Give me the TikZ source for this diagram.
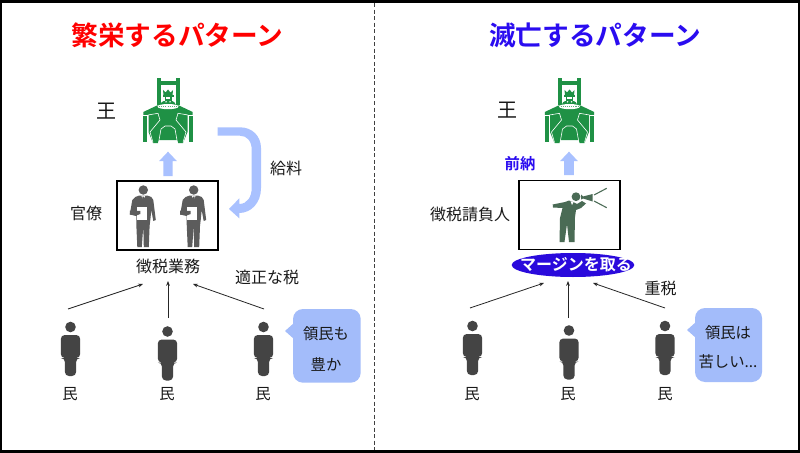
\documentclass[tikz,border=0pt]{standalone}
\usepackage{fontspec}
\setmainfont{Noto Sans CJK JP}
\newfontfamily\jpbold{Noto Sans CJK JP Bold}
\usetikzlibrary{shapes.geometric,arrows.meta}
\definecolor{kinggreen}{HTML}{1F9145}
\definecolor{palearrow}{HTML}{A9C1FF}
\definecolor{bubble}{HTML}{A3BCFA}
\definecolor{persongrey}{HTML}{444444}
\definecolor{officergrey}{HTML}{5C5C5C}
\definecolor{shoutgreen}{HTML}{4A6B55}
\definecolor{titleblue}{HTML}{2A0CF0}
\definecolor{ovalblue}{HTML}{2A0ADC}
\tikzset{
  x=0.75pt,y=-0.75pt,
  txt/.style={font=\fontsize{12}{14}\selectfont,text=black!90,inner sep=0pt},
  smalltxt/.style={font=\fontsize{11.5}{14}\selectfont,text=black!90,inner sep=0pt},
  kingtxt/.style={font=\fontsize{15}{17}\selectfont,text=black!90,inner sep=0pt},
  titletxt/.style={font=\jpbold\fontsize{20}{24}\selectfont,inner sep=0pt},
  thin arrow/.style={draw=black!85,line width=0.6pt,-{Stealth[length=3.6pt,width=2.8pt]}},
  boxed/.style={draw=black,line width=1.2pt,fill=white,minimum width=75.5pt,minimum height=51.5pt,inner sep=0pt},
  pics/person/.style={code={
    \fill[persongrey] (0,-21) circle (5.3);
    \fill[persongrey,rounded corners=3pt] (-9.7,-13) -- (9.7,-13) -- (9.7,10) -- (5.6,10) -- (5.6,28) -- (-5.6,28) -- (-5.6,10) -- (-9.7,10) -- cycle;
  }},
  pics/king/.style={code={
    % chair back
    \fill[kinggreen] (-11.5,-32) rectangle (-7.5,-5);
    \fill[kinggreen] (7.5,-32) rectangle (11.5,-5);
    \fill[kinggreen] (-8,-28.5) rectangle (8,-25);
    % crown and head
    \fill[kinggreen] (-5,-20) -- (-2.5,-17.5) -- (0,-20.5) -- (2.5,-17.5) -- (5,-20) -- (4.5,-15) -- (-4.5,-15) -- cycle;
    \fill[kinggreen] (-5.5,-14.5) rectangle (5.5,-13.2);
    \fill[kinggreen] (-3.5,-13.2) rectangle (3.5,-9);
    \fill[white] (-2.2,-12.5) rectangle (2.2,-10.5);
    \fill[kinggreen] (-8,-5) .. controls (-6,-10) and (-3,-9) .. (0,-9) .. controls (3,-9) and (6,-10) .. (8,-5) -- cycle;
    \fill[white] (-2,-8.2) circle (0.8);
    \fill[white] (2,-8.2) circle (0.8);
    % body
    \fill[kinggreen] (-11,-4.5) -- (11,-4.5) -- (24.7,2) -- (24.7,5) -- (19.5,5) -- (19.5,22) -- (15,33) -- (10,33) -- (9,30) -- (-9,30) -- (-10,33) -- (-15,33) -- (-19.5,22) -- (-19.5,5) -- (-24.7,5) -- (-24.7,2) -- cycle;
    \fill[kinggreen] (-24.7,6) rectangle (-20.7,32);
    \fill[kinggreen] (20.7,6) rectangle (24.7,32);
    % collar
    \fill[white] (0,-3.4) ellipse (10.5 and 2.6);
    \draw[kinggreen!70!white,line width=0.5pt,dash pattern=on 0.8pt off 0.8pt] (-9,-3.4) -- (9,-3.4);
    % white outlines
    \draw[white,line width=0.45pt] (-20,5) -- (-10,3.3) -- (-8,10) -- (-18,22) -- (-15,32.5);
    \draw[white,line width=0.45pt] (20,5) -- (10,3.3) -- (8,10) -- (18,22) -- (15,32.5);
    \draw[white,line width=0.45pt] (-9.5,33) -- (-7,19) -- (-3,16) -- (3,16) -- (7,19) -- (9.5,33);
  }},
  pics/officer/.style={code={
    \fill[officergrey] (0,-26) circle (4.7);
    \fill[officergrey] (-4,-20.5) -- (4,-20.5) -- (8,-19) -- (10,-16) -- (12.5,4) -- (10,5) -- (8,-6) -- (7,4) -- (6.3,10) -- (5.5,31) -- (0.5,31) -- (0,10) -- (-1.5,31) -- (-6,31) -- (-7,8) -- (-7,0) -- (-13.5,-1.5) -- (-11,-16) -- (-8,-19) -- cycle;
    \fill[white] (-2.2,-20.5) -- (0,-16.5) -- (2.2,-20.5) -- cycle;
    \fill[officergrey] (-0.8,-19.5) -- (0.8,-19.5) -- (1,-13.5) -- (-1,-13.5) -- cycle;
    \fill[white] (-6.5,-9) -- (3.5,-9) -- (3.5,4) -- (-6.5,4) -- cycle;
    \fill[officergrey] (-13.5,-5.5) -- (-3,-5) -- (-3,-2) -- (-7,-0.5) -- (-13.5,-1.5) -- cycle;
  }},
  pics/shouter/.style={code={
    \fill[shoutgreen] (0,-8.3) circle (4.4);
    \fill[shoutgreen] (-23.3,-0.5) -- (-11,-3) -- (-7,-4.5) -- (-3,-3) -- (1,-1) -- (6,-4) -- (10,-1.5) -- (5,3) -- (0,5) -- (-1,12) -- (-1.5,37) -- (-7,37) -- (-9,19) -- (-11.5,37) -- (-16.5,37) -- (-16,13) -- (-13.5,3) -- (-23,2.5) -- cycle;
    \fill[white] (-5.5,-3.8) -- (-4,0) -- (-2.5,-3) -- cycle;
    \fill[shoutgreen] (5,-10.5) -- (7,-8.5) -- (16.7,-11) -- (16.7,-3.5) -- (7,-6.5) -- (5,-5.5) -- cycle;
    \draw[shoutgreen,line width=0.8pt] (18,-10) -- (30.7,-16.7);
    \draw[shoutgreen,line width=0.8pt] (18,-4) -- (30.7,2.7);
  }},
}
\newcommand{\bigarrowup}[4]{\fill[palearrow] (#1-9,#2+9.5) -- (#1,#2) -- (#1+9,#2+9.5) -- (#1+#4,#2+9.5) -- (#1+#4,#3) -- (#1-#4,#3) -- (#1-#4,#2+9.5) -- cycle;}
\begin{document}
\begin{tikzpicture}
\useasboundingbox (0,0) rectangle (800,453);
\fill[black] (0,0) rectangle (800,453);
\fill[white] (2,3) rectangle (798,450);
\coordinate (divtop) at (374.5,3);
\coordinate (divbot) at (374.5,450);
\draw[black!75,line width=0.7pt,dash pattern=on 3pt off 1.9pt] (divtop) -- (divbot);

\node[titletxt,text=red] (t1) at (177.5,35) {繁栄するパターン};
\node[titletxt,text=titleblue] (t2) at (595,35) {滅亡するパターン};

% LEFT
\node[kingtxt] (k1) at (106,111) {王};
\pic at (168,110) {king};
\bigarrowup{168}{151.7}{176}{4.7}
\fill[palearrow] (217.7,127.3) -- (240,127.3) .. controls (252,127.3) and (261,136) .. (261,148) -- (261,188) .. controls (261,203) and (251,213) .. (239.3,213) -- (239.3,218.3) -- (229,209) -- (239.3,198.3) -- (239.3,204) .. controls (247,204) and (251.7,197) .. (251.7,188) -- (251.7,150) .. controls (251.7,141) and (247,135.7) .. (240,135.7) -- (217.7,135.7) -- cycle;
\node[txt] (salary) at (286,168) {給料};
\node[boxed] (box1) at (167.5,215.5) {};
\pic at (143.3,216) {officer};
\pic at (193.7,216) {officer};
\node[txt] (kanryo) at (86,213) {官僚};
\node[txt] (gyomu) at (168,266) {徴税業務};
\node[txt] (tekisei) at (267,277) {適正な税};
\coordinate (a1s) at (68,309);
\coordinate (a2s) at (168,318);
\coordinate (a3s) at (264,309);
\coordinate (a1e) at (143,284);
\coordinate (a2e) at (168,281);
\coordinate (a3e) at (193,284);
\draw[thin arrow] (a1s) -- (a1e);
\draw[thin arrow] (a2s) -- (a2e);
\draw[thin arrow] (a3s) -- (a3e);
\pic at (70.5,348) {person};
\pic at (167.5,352.5) {person};
\pic at (263.5,348) {person};
\node[smalltxt] (m1) at (70,394) {民};
\node[smalltxt] (m2) at (167,394) {民};
\node[smalltxt] (m3) at (263,394) {民};
\fill[bubble,rounded corners=7.5pt] (293,309) rectangle (360.7,382.7);
\fill[bubble] (294,323) -- (285,331) -- (294,339) -- cycle;
\node[smalltxt] (b1a) at (326,334) {領民も};
\node[smalltxt] (b1b) at (326,364) {豊か};

% RIGHT
\node[kingtxt] (k2) at (507.5,110) {王};
\pic at (569.5,110) {king};
\bigarrowup{569}{151.7}{175}{4.8}
\node[font=\jpbold\fontsize{11.5}{14}\selectfont,text=titleblue,inner sep=0pt] (zennou) at (520,164) {前納};
\node[boxed] (box2) at (569.5,215) {};
\pic at (576,205) {shouter};
\node[txt] (ukeoi) at (470,214) {徴税請負人};
\node[ellipse,fill=ovalblue,minimum width=92pt,minimum height=18pt,inner sep=0pt] (margin) at (573,265) {};
\node[font=\jpbold\fontsize{12}{14}\selectfont,text=white,inner sep=0pt] (margintxt) at (576,265) {マージンを取る};
\node[txt] (juzei) at (660.5,288) {重税};
\coordinate (b1s) at (470,308);
\coordinate (b2s) at (568,318);
\coordinate (b3s) at (665,308);
\coordinate (b1e) at (544,283);
\coordinate (b2e) at (568,281);
\coordinate (b3e) at (593,283);
\draw[thin arrow] (b1s) -- (b1e);
\draw[thin arrow] (b2s) -- (b2e);
\draw[thin arrow] (b3s) -- (b3e);
\pic at (472.5,347) {person};
\pic at (569,351.5) {person};
\pic at (665,347) {person};
\node[smalltxt] (m4) at (472,394) {民};
\node[smalltxt] (m5) at (568,394) {民};
\node[smalltxt] (m6) at (665,394) {民};
\fill[bubble,rounded corners=7.5pt] (695,308) rectangle (762,382);
\fill[bubble] (696,322) -- (687,330) -- (696,338) -- cycle;
\node[smalltxt] (b2a) at (728,333) {領民は};
\node[smalltxt] (b2b) at (728,362) {苦しい...};
\end{tikzpicture}
\end{document}
